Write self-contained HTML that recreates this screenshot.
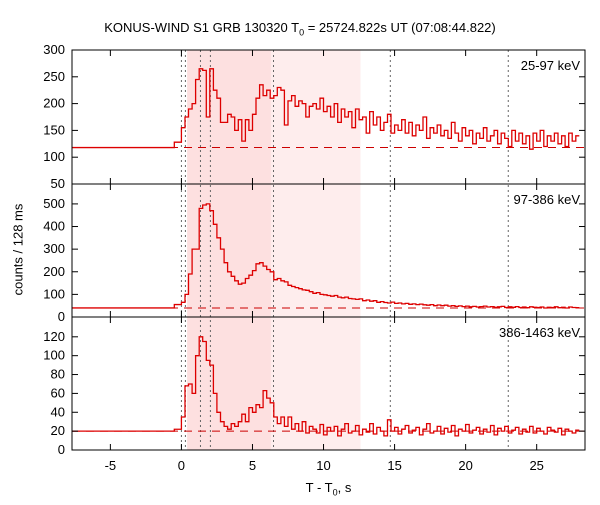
<!DOCTYPE html>
<html><head><meta charset="utf-8"><style>
body{margin:0;background:#fff;font-family:"Liberation Sans",sans-serif;}
svg text{font-family:"Liberation Sans",sans-serif;font-size:13px;fill:#000;}
</style></head><body>
<svg id="c" width="600" height="500" xmlns="http://www.w3.org/2000/svg"></svg>
<script>
const binStart = 0, binWidth = 0.25;
const preValues = [118, 40, 20];
const riseValues = [128, 55, 22];
const baseline = [118, 40, 20];
const topValues = [155,175,190,200,245,265,262,175,265,225,210,165,
165,180,175,150,170,130,170,150,180,210,235,215,
225,210,215,230,225,160,205,215,195,205,200,175,
195,200,190,210,185,195,175,200,165,190,175,185,
155,190,170,175,145,185,160,175,150,165,180,145,
160,150,170,145,165,140,160,150,175,135,155,145,
160,140,150,135,165,145,130,155,140,150,125,145,
135,155,130,140,150,125,145,135,120,150,130,145,
125,140,115,145,130,150,120,140,130,145,125,140,
120,145,130,140];
const midValues = [65,100,190,300,300,480,495,500,470,410,350,300,
240,200,180,160,145,150,170,185,205,235,240,225,
210,200,165,170,160,155,140,135,130,125,120,118,
112,105,108,100,98,95,92,95,88,85,88,82,
80,78,80,72,75,70,72,65,68,64,62,66,
60,62,58,60,56,58,55,57,54,52,55,50,
53,50,52,48,50,47,49,46,48,45,47,44,
46,48,44,46,43,45,47,42,45,43,46,42,
44,41,45,43,42,44,40,43,42,45,41,43,
40,44,42,41];
const botValues = [35,68,70,60,100,120,115,95,90,60,40,30,
25,22,28,25,30,38,30,45,40,48,45,63,
55,50,35,28,35,25,35,22,28,20,30,18,
25,22,18,27,16,24,20,25,15,22,28,18,
20,26,16,22,19,28,17,24,20,15,32,20,
24,17,22,26,18,21,24,16,22,28,18,20,
25,17,23,19,26,15,22,20,27,18,21,24,
17,22,19,26,16,23,20,25,18,21,24,17,
22,19,25,18,23,20,17,24,21,19,23,16,
22,20,18,21];
const panelLabels = ["25-97 keV","97-386 keV","386-1463 keV"];
const yTicks = [[50,100,150,200,250,300],[0,100,200,300,400,500],[0,20,40,60,80,100,120]];
const yRanges = [[50,300],[0,588],[0,141]];
const xTicks = [-5,0,5,10,15,20,25];
const markers = [0,0.28,1.34,2.04,6.48,14.7,23.0];
const shadeDark = [0.4,6.3], shadeLight = [6.3,12.6];
const xMin=-7.7, xMax=28.4;

const svg=document.getElementById('c');
const NS="http://www.w3.org/2000/svg";
const L=72,R=585;
const panels=[[50,184],[184,317],[317,450]];
const X=v=>L+(v-xMin)/(xMax-xMin)*(R-L);
function mk(t,a,p){const e=document.createElementNS(NS,t);for(const k in a)e.setAttribute(k,a[k]);(p||svg).appendChild(e);return e;}
function Yf(i){const [t,b]=panels[i];const [lo,hi]=yRanges[i];return v=>b-(v-lo)/(hi-lo)*(b-t);}

let e=mk('rect',{x:X(shadeDark[0]),y:50,width:X(shadeDark[1])-X(shadeDark[0]),height:400,fill:'#fde0e0'});

e=mk('rect',{x:X(shadeLight[0]),y:50,width:X(shadeLight[1])-X(shadeLight[0]),height:400,fill:'#feeded'});

markers.forEach(m=>{const l=mk('line',{x1:X(m),x2:X(m),y1:50,y2:450,stroke:'#666','stroke-dasharray':'2,3','stroke-width':1});
});

const series=[topValues,midValues,botValues];
series.forEach((vals,i)=>{
  const Y=Yf(i);const [t,b]=panels[i];
  const cp=mk('clipPath',{id:'cp'+i});mk('rect',{x:L,y:t,width:R-L,height:b-t},cp);
  const bl=mk('line',{x1:L,x2:R,y1:Y(baseline[i]),y2:Y(baseline[i]),stroke:'#c00','stroke-dasharray':'8,6','stroke-width':1});
  
  let d='M'+X(xMin)+','+Y(preValues[i])+'H'+X(binStart-0.5)+'V'+Y(riseValues[i])+'H'+X(binStart);
  vals.forEach((v,k)=>{const x0=binStart+k*binWidth;d+='V'+Y(v).toFixed(1)+'H'+X(x0+binWidth).toFixed(1);});
  const p=mk('path',{d:d,fill:'none',stroke:'#d00','stroke-width':1.3,'clip-path':'url(#cp'+i+')'});
  
  mk('rect',{x:L,y:t,width:R-L,height:b-t,fill:'none',stroke:'#000','stroke-width':1});
  yTicks[i].forEach(v=>{const y=Y(v);
    mk('line',{x1:L,x2:L+6,y1:y,y2:y,stroke:'#000'});mk('line',{x1:R-6,x2:R,y1:y,y2:y,stroke:'#000'});
    const tx=mk('text',{x:L-7,y:y+4,'text-anchor':'end'});tx.textContent=v;
    });
  xTicks.forEach(v=>{const x=X(v);mk('line',{x1:x,x2:x,y1:b-6,y2:b,stroke:'#000'});mk('line',{x1:x,x2:x,y1:t,y2:t+6,stroke:'#000'});});
  const lb=mk('text',{x:R-5,y:t+20,'text-anchor':'end'});lb.textContent=panelLabels[i];
  
});
xTicks.forEach(v=>{const tx=mk('text',{x:X(v),y:470,'text-anchor':'middle'});tx.textContent=v;
  });
</script>
<div style="position:absolute;left:0;top:0;width:600px;height:500px;pointer-events:none">
<div style="position:absolute;top:20px;width:600px;text-align:center;font-size:13px">KONUS-WIND S1 GRB 130320 T<sub style="font-size:9px">0</sub> = 25724.822s UT (07:08:44.822)</div>
<div style="position:absolute;top:480px;left:0;width:657px;text-align:center;font-size:13px">T - T<sub style="font-size:9px">0</sub>, s</div>
<div style="position:absolute;left:-42px;top:242px;width:120px;text-align:center;font-size:13px;transform:rotate(-90deg)">counts / 128 ms</div>
</div>
</body></html>
